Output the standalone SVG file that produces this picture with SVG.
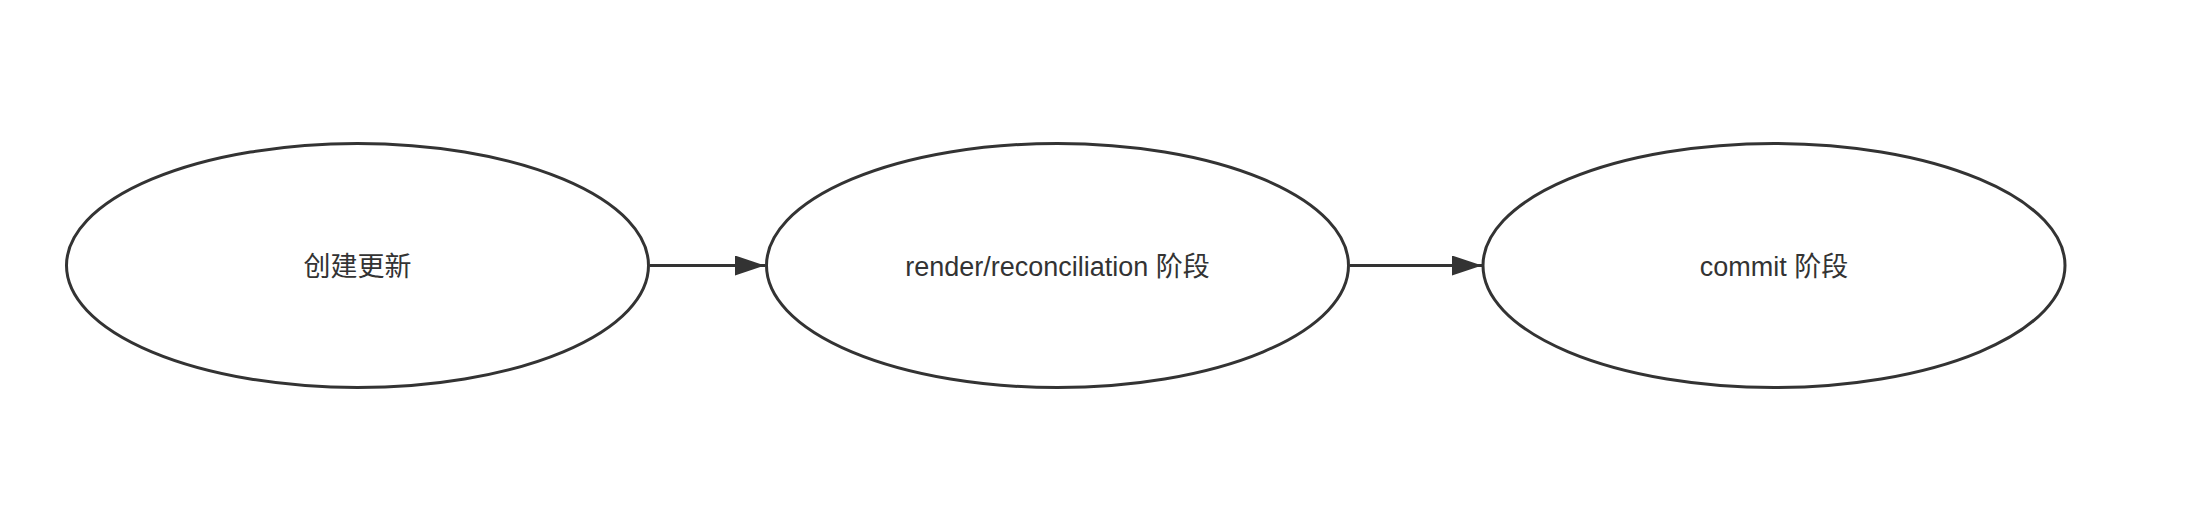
<svg xmlns="http://www.w3.org/2000/svg" width="2192" height="506" viewBox="0 0 2192 506">
<style>
.node ellipse{fill:#ffffff;stroke:#333333;stroke-width:3}
.node text{font-family:"Liberation Sans","Noto Sans CJK SC",sans-serif;font-size:27px;fill:#333333;text-anchor:middle}
.edge{stroke:#333333;stroke-width:3;fill:none}
</style>
<defs>
<marker id="arrow" viewBox="0 0 30 20" refX="30" refY="10" markerWidth="30" markerHeight="20" markerUnits="userSpaceOnUse" orient="auto">
<path d="M0,0 L30,10 L0,20 Z" fill="#333333"/>
</marker>
</defs>
<rect width="2192" height="506" fill="#ffffff"/>
<g id="connectors">
<line class="edge" x1="650" y1="265.5" x2="765" y2="265.5" marker-end="url(#arrow)"/>
<line class="edge" x1="1350" y1="265.5" x2="1482" y2="265.5" marker-end="url(#arrow)"/>
</g>
<g id="node-create" class="node">
<ellipse cx="357.5" cy="265.5" rx="291" ry="122"/>
<text x="357.5" y="276">创建更新</text>
</g>
<g id="node-render" class="node">
<ellipse cx="1057.5" cy="265.5" rx="291" ry="122"/>
<text x="1057.5" y="276">render/reconciliation 阶段</text>
</g>
<g id="node-commit" class="node">
<ellipse cx="1774" cy="265.5" rx="291" ry="122"/>
<text x="1774" y="276">commit 阶段</text>
</g>
</svg>
